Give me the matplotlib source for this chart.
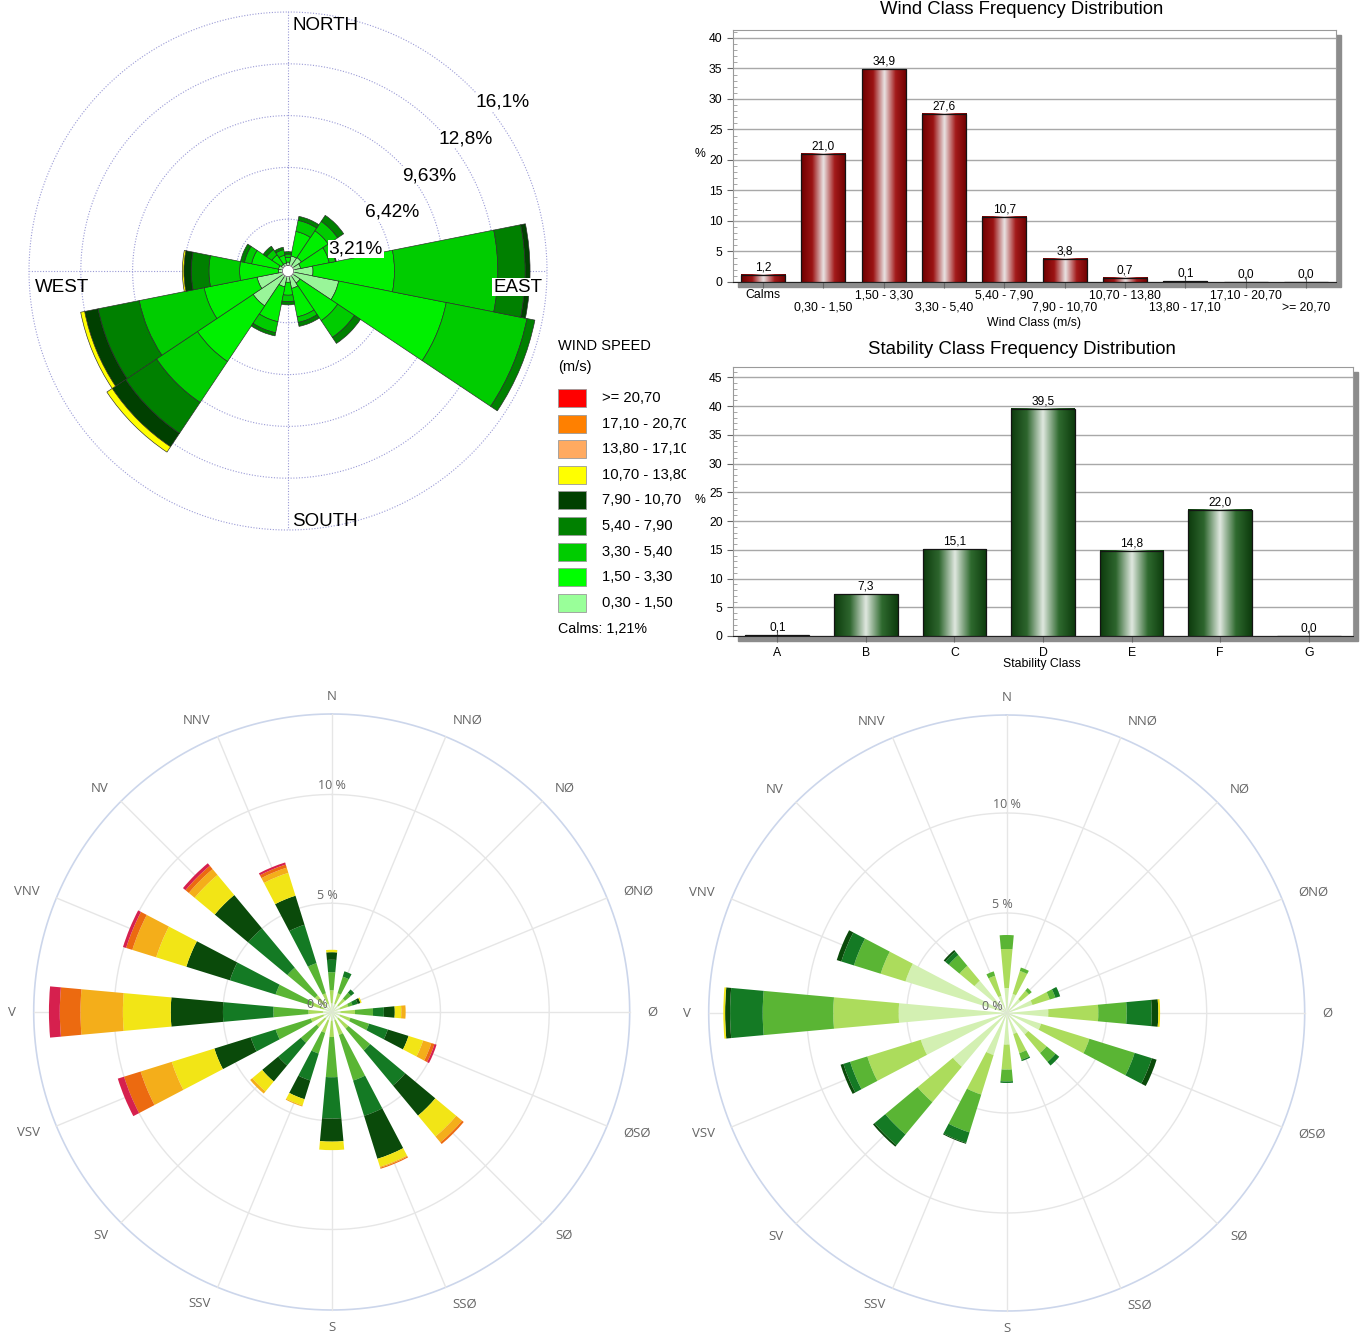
#Rosa de vientos + distribuciones de frecuencia

import numpy as np
import matplotlib
matplotlib.use("Agg")
import matplotlib.pyplot as plt
from matplotlib.colors import LinearSegmentedColormap
from matplotlib.patches import Rectangle
from matplotlib.ticker import MultipleLocator

plt.rcParams['font.family'] = ['Liberation Sans', 'DejaVu Sans']

W, H = 1363, 1335

# ---------------- datos ----------------
dirs_en = ['N', 'NNE', 'NE', 'ENE', 'E', 'ESE', 'SE', 'SSE',
           'S', 'SSW', 'SW', 'WSW', 'W', 'WNW', 'NW', 'NNW']
dirs_no = ['N', 'NNØ', 'NØ', 'ØNØ', 'Ø', 'ØSØ', 'SØ', 'SSØ',
           'S', 'SSV', 'SV', 'VSV', 'V', 'VNV', 'NV', 'NNV']

# rosa 1: radio acumulado (%) por clase 0,30-1,50 ... 10,70-13,80
rose1_cum = [
    [0.55, 0.85, 1.05, 1.20, 1.20, 1.20],   # N
    [0.95, 2.50, 3.20, 3.45, 3.45, 3.45],   # NNE
    [1.00, 3.00, 3.70, 4.15, 4.15, 4.15],   # NE
    [0.80, 2.60, 3.00, 3.05, 3.05, 3.05],   # ENE
    [1.55, 6.60, 13.0, 14.7, 15.0, 15.0],   # E
    [3.20, 10.0, 15.1, 15.6, 15.6, 15.6],   # ESE
    [0.90, 3.70, 4.95, 5.40, 5.40, 5.40],   # SE
    [1.10, 2.90, 3.25, 3.50, 3.50, 3.50],   # SSE
    [0.70, 1.50, 1.90, 2.10, 2.10, 2.10],   # S
    [1.00, 3.20, 3.90, 4.10, 4.10, 4.10],   # SSW
    [2.60, 6.75, 9.80, 12.1, 13.1, 13.5],   # SW
    [1.95, 5.30, 9.40, 12.0, 12.85, 13.1],  # WSW
    [0.60, 3.00, 4.90, 6.00, 6.45, 6.55],   # W
    [0.60, 2.30, 2.75, 3.00, 3.00, 3.00],   # WNW
    [0.50, 1.20, 1.60, 1.85, 1.85, 1.85],   # NW
    [0.50, 1.00, 1.35, 1.50, 1.50, 1.50],   # NNW
]
rose1_colors = ['#99f599', '#00f000', '#00cc00', '#008000', '#004000', '#ffff00']
rose1_rings = [3.21, 6.42, 9.63, 12.84, 16.05]
rose1_ring_labels = ['3,21%', '6,42%', '9,63%', '12,8%', '16,1%']

legend_labels = ['>= 20,70', '17,10 - 20,70', '13,80 - 17,10', '10,70 - 13,80',
                 '7,90 - 10,70', '5,40 - 7,90', '3,30 - 5,40', '1,50 - 3,30', '0,30 - 1,50']
legend_colors = ['#ff0000', '#ff8000', '#ffaa60', '#ffff00',
                 '#004000', '#008000', '#00cc00', '#00ff00', '#99ff99']

wind_classes = ['Calms', '0,30 - 1,50', '1,50 - 3,30', '3,30 - 5,40', '5,40 - 7,90',
                '7,90 - 10,70', '10,70 - 13,80', '13,80 - 17,10', '17,10 - 20,70', '>= 20,70']
wind_freq = [1.2, 21.0, 34.9, 27.6, 10.7, 3.8, 0.7, 0.1, 0.0, 0.0]

stab_classes = ['A', 'B', 'C', 'D', 'E', 'F', 'G']
stab_freq = [0.1, 7.3, 15.1, 39.5, 14.8, 22.0, 0.0]

# rosa 2 (abajo izq): radio acumulado (%) por clase de velocidad
rose2_cum = [
    [0.4, 1.00, 1.83, 2.40, 2.75, 2.86, 2.86, 2.86, 2.86],   # N
    [0.4, 0.90, 1.70, 1.96, 1.96, 1.96, 1.96, 1.96, 1.96],   # NNØ
    [0.4, 0.80, 1.15, 1.35, 1.35, 1.35, 1.35, 1.35, 1.35],   # NØ
    [0.4, 0.80, 1.00, 1.25, 1.38, 1.44, 1.44, 1.44, 1.44],   # ØNØ
    [0.4, 1.07, 1.90, 2.40, 2.90, 3.20, 3.40, 3.40, 3.40],   # Ø
    [0.4, 0.90, 1.80, 2.70, 3.70, 4.40, 4.80, 4.95, 5.05],   # ØSØ
    [0.4, 1.00, 2.30, 4.40, 6.20, 7.45, 7.80, 7.90, 7.90],   # SØ
    [0.4, 1.10, 3.30, 5.00, 7.07, 7.45, 7.50, 7.55, 7.55],   # SSØ
    [0.4, 1.15, 3.00, 4.90, 5.96, 6.35, 6.35, 6.35, 6.35],   # S
    [0.4, 1.00, 2.00, 3.30, 4.20, 4.50, 4.55, 4.55, 4.55],   # SSV
    [0.4, 0.90, 1.84, 3.20, 4.16, 4.75, 4.88, 4.88, 4.88],   # SV
    [0.4, 1.00, 2.70, 3.90, 5.65, 7.70, 9.20, 10.0, 10.3],   # VSV
    [0.4, 1.07, 2.68, 5.00, 7.40, 9.60, 11.55, 12.5, 13.0],  # V
    [0.4, 1.00, 2.70, 4.90, 7.00, 8.45, 9.60, 9.90, 10.05],  # VNV
    [0.4, 1.00, 2.65, 5.00, 7.00, 8.20, 8.55, 8.75, 8.90],   # NV
    [0.4, 0.90, 2.35, 4.20, 5.60, 6.70, 6.95, 7.10, 7.20],   # NNV
]
# rosa 3 (abajo der)
rose3_cum = [
    [1.25, 3.20, 3.90, 3.90, 3.90, 3.90],    # N
    [1.00, 2.20, 2.38, 2.38, 2.38, 2.38],    # NNØ
    [0.90, 1.45, 1.63, 1.63, 1.63, 1.63],    # NØ
    [1.35, 2.25, 2.55, 2.80, 2.80, 2.80],    # ØNØ
    [2.08, 4.58, 6.00, 7.25, 7.58, 7.67],    # Ø
    [1.80, 4.33, 6.70, 7.60, 7.85, 7.85],    # ØSØ
    [1.40, 2.60, 3.18, 3.42, 3.42, 3.42],    # SØ
    [1.10, 2.10, 2.45, 2.52, 2.52, 2.52],    # SSØ
    [1.58, 2.83, 3.42, 3.50, 3.50, 3.50],    # S
    [2.20, 4.27, 6.25, 6.80, 6.85, 6.85],    # SSV
    [3.50, 5.80, 7.90, 8.60, 8.70, 8.70],    # SV
    [4.50, 7.30, 8.20, 8.55, 8.70, 8.70],    # VSV
    [5.40, 8.67, 12.2, 13.83, 14.08, 14.17], # V
    [5.30, 6.60, 8.00, 8.66, 8.90, 8.90],    # VNV
    [2.10, 3.07, 3.77, 4.00, 4.10, 4.10],    # NV
    [0.90, 1.95, 2.18, 2.18, 2.18, 2.18],    # NNV
]
hc_colors = ['#d3f0b2', '#acdc5c', '#5ab534', '#147a24', '#0a4a0a',
             '#f2e516', '#f4ae1a', '#ec6a10', '#d6204e']

theta = np.deg2rad(np.arange(16) * 22.5)


def box(x0, y0, x1, y1):
    # caja en pixeles -> fraccion de figura
    return [x0 / W, 1 - y1 / H, (x1 - x0) / W, (y1 - y0) / H]


fig = plt.figure(figsize=(W / 100, H / 100), dpi=100)

# ---------------- rosa 1 ----------------
cx, cy, R = 288, 271, 259
ax1 = fig.add_axes(box(cx - R, cy - R, cx + R, cy + R), projection='polar')
ax1.set_theta_zero_location('N')
ax1.set_theta_direction(-1)
ax1.set_ylim(0, 16.05)
ax1.set_axis_off()
tt = np.linspace(0, 2 * np.pi, 500)
for r in rose1_rings:
    ax1.plot(tt, np.full_like(tt, r), color='#9a9ad6', lw=0.8, ls=(0, (1, 1.5)), zorder=1, clip_on=False)
for t in [0, np.pi / 2, np.pi, 1.5 * np.pi]:
    ax1.plot([t, t], [0, 16.05], color='#9a9ad6', lw=0.8, ls=(0, (1, 1.5)), zorder=1)
cum1 = np.array(rose1_cum)
hole = 0.35
base = np.full(16, hole)
for k in range(cum1.shape[1]):
    top = cum1[:, k]
    m = top - base > 0.001
    ax1.bar(theta[m], (top - base)[m], width=np.deg2rad(22.5), bottom=base[m],
            color=rose1_colors[k], edgecolor='#2a2a2a', linewidth=0.45, zorder=3)
    base = np.maximum(base, top)
ax1.fill(tt, np.full_like(tt, hole), color='white', zorder=4)
ax1.plot(tt, np.full_like(tt, hole), color='#555555', lw=0.5, zorder=5)
for r, lab in zip(rose1_rings, rose1_ring_labels):
    ax1.annotate(lab, (np.pi / 4, r), xytext=(4, -6), textcoords='offset pixels',
                 ha='left', va='top', fontsize=13.8, zorder=6,
                 bbox=dict(fc='white', ec='none', pad=0.5), annotation_clip=False)

fig.text(292 / W, 1 - 26 / H, 'NORTH', ha='left', va='center', fontsize=13.5)
fig.text(292 / W, 1 - 522 / H, 'SOUTH', ha='left', va='center', fontsize=13.5)
fig.text(35 / W, 1 - 287 / H, 'WEST', ha='left', va='center', fontsize=13.5)
fig.text(493 / W, 1 - 287 / H, 'EAST', ha='left', va='center', fontsize=13.5,
         bbox=dict(fc='white', ec='none', pad=0.5), zorder=10)

# leyenda
axl = fig.add_axes(box(550, 330, 686, 645))
axl.set_xlim(550, 686)
axl.set_ylim(645, 330)
axl.set_axis_off()
axl.text(558, 346, 'WIND SPEED', ha='left', va='center', fontsize=10.5)
axl.text(558, 367, '(m/s)', ha='left', va='center', fontsize=10.5)
for i, (lab, col) in enumerate(zip(legend_labels, legend_colors)):
    y = 398 + i * 25.6
    axl.add_patch(Rectangle((558, y - 9), 28, 18, fc=col, ec='#9a9a9a', lw=0.6))
    axl.text(602, y, lab, ha='left', va='center', fontsize=10.6, clip_on=True)
axl.text(558, 629, 'Calms: 1,21%', ha='left', va='center', fontsize=10.3)


# ---------------- barras con degradado ----------------
def gradient_bars(ax, values, cmap, width):
    x = np.arange(len(values))
    bars = ax.bar(x, values, width=width, color='none', edgecolor='#141414', linewidth=0.9, zorder=4)
    grad = np.linspace(0, 1, 256)[None, :]
    for b in bars:
        h = b.get_height()
        if h <= 0:
            continue
        ax.imshow(grad, cmap=cmap, aspect='auto', interpolation='bilinear', zorder=3,
                  extent=(b.get_x(), b.get_x() + b.get_width(), 0, h))
    return x


def frame(ax, rect_px):
    x0, y0, x1, y1 = rect_px
    fig.add_artist(Rectangle(((x0 + 5) / W, 1 - (y1 + 5) / H), (x1 - x0) / W, (y1 - y0) / H,
                             transform=fig.transFigure, color='#8c8c8c', zorder=-1))
    for s in ax.spines.values():
        s.set_color('#9a9a9a')
    ax.spines['bottom'].set_color('#222222')
    ax.yaxis.grid(True, color='#a8a8a8', lw=1)
    ax.set_axisbelow(True)
    ax.yaxis.set_minor_locator(MultipleLocator(1))
    ax.tick_params(axis='y', which='major', labelsize=8.8, length=4, color='#666666')
    ax.tick_params(axis='y', which='minor', length=3, direction='in', color='#999999')
    ax.tick_params(axis='x', labelsize=8.8, length=9, direction='inout', color='#666666')


red_cm = LinearSegmentedColormap.from_list('r', ['#6e0000', '#9c1414', '#e9e3e3', '#a31a1a', '#6e0000'])
green_cm = LinearSegmentedColormap.from_list('g', ['#0c3a0c', '#2e662e', '#e0e8e0', '#2f6a2f', '#0c3a0c'])

rect2 = (733, 30, 1336, 282)
ax2 = fig.add_axes(box(*rect2))
x2 = gradient_bars(ax2, wind_freq, red_cm, 0.73)
ax2.set_xlim(-0.5, len(wind_freq) - 0.5)
ax2.set_ylim(0, 41.3)
ax2.set_yticks(range(0, 41, 5))
ax2.set_xticks(x2)
ax2.set_xticklabels([''] * len(x2))
for i, (xi, lab) in enumerate(zip(x2, wind_classes)):
    ax2.annotate(lab, (xi, 0), xytext=(0, -26 if i % 2 else -13), textcoords='offset pixels',
                 ha='center', va='center', fontsize=8.8, annotation_clip=False)
for xi, v in zip(x2, wind_freq):
    ax2.text(xi, v + 0.25, f'{v:.1f}'.replace('.', ','), ha='center', va='bottom', fontsize=8.6)
frame(ax2, rect2)
fig.text(1022 / W, 1 - 10 / H, 'Wind Class Frequency Distribution', ha='center', va='center', fontsize=13.3)
fig.text(700 / W, 1 - 154 / H, '%', ha='center', va='center', fontsize=8.8)
fig.text(1034 / W, 1 - 323 / H, 'Wind Class (m/s)', ha='center', va='center', fontsize=8.8)

rect3 = (733, 367, 1353, 636)
ax3 = fig.add_axes(box(*rect3))
x3 = gradient_bars(ax3, stab_freq, green_cm, 0.72)
ax3.set_xlim(-0.5, len(stab_freq) - 0.5)
ax3.set_ylim(0, 46.8)
ax3.set_yticks(range(0, 46, 5))
ax3.set_xticks(x3)
ax3.set_xticklabels(stab_classes)
for xi, v in zip(x3, stab_freq):
    ax3.text(xi, v + 0.25, f'{v:.1f}'.replace('.', ','), ha='center', va='bottom', fontsize=8.6)
frame(ax3, rect3)
fig.text(1022 / W, 1 - 350 / H, 'Stability Class Frequency Distribution', ha='center', va='center', fontsize=13.4)
fig.text(700 / W, 1 - 500 / H, '%', ha='center', va='center', fontsize=8.8)
fig.text(1042 / W, 1 - 664 / H, 'Stability Class', ha='center', va='center', fontsize=8.8)


# ---------------- rosas estilo highcharts ----------------
def hc_rose(cx, cy, R, cum, rmax):
    ax = fig.add_axes(box(cx - R, cy - R, cx + R, cy + R), projection='polar')
    ax.set_theta_zero_location('N')
    ax.set_theta_direction(-1)
    ax.set_ylim(0, rmax)
    ax.set_axis_off()
    for r in [5, 10]:
        ax.plot(tt, np.full_like(tt, r), color='#e6e6e6', lw=1, zorder=1)
    ax.plot(tt, np.full_like(tt, rmax), color='#ccd6eb', lw=1.2, zorder=1, clip_on=False)
    for t in theta:
        ax.plot([t, t], [0, rmax], color='#e6e6e6', lw=1, zorder=1, clip_on=False)
    cum = np.array(cum)
    base = np.zeros(16)
    for k in range(cum.shape[1]):
        top = cum[:, k]
        m = top - base > 0.001
        ax.bar(theta[m], (top - base)[m], width=np.deg2rad(10.4), bottom=base[m],
               color=hc_colors[k], linewidth=0, zorder=3)
        base = np.maximum(base, top)
    for i, (t, lab) in enumerate(zip(theta, dirs_no)):
        ha = 'center' if i in (0, 8) else ('left' if i < 8 else 'right')
        ax.text(t, rmax * 1.06, lab, ha=ha, va='center', color='#666666',
                fontsize=9.5, family=['Open Sans', 'DejaVu Sans'], clip_on=False)
    for r, off in zip([0, 5, 10], [(-14, 7), (-4, 8), (0, 9)]):
        ax.annotate(f'{r} %', (0, r), xytext=off, textcoords='offset pixels', ha='center', va='center',
                    color='#666666', fontsize=9, family=['Open Sans', 'DejaVu Sans'], zorder=5,
                    annotation_clip=False)
    return ax


hc_rose(331.7, 1012, 298, rose2_cum, 13.7)
hc_rose(1006.7, 1013, 298, rose3_cum, 14.9)

plt.savefig('out.png', dpi=100)
